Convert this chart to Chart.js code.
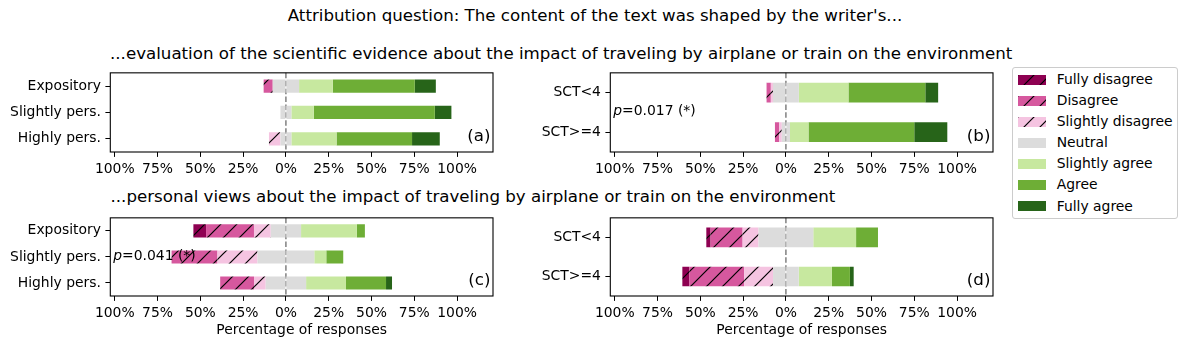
<!DOCTYPE html>
<html><head><meta charset="utf-8">
<script src="https://cdn.jsdelivr.net/npm/chart.js@4.4.1/dist/chart.umd.min.js"></script>
<style>
body{margin:0;width:1190px;height:348px;background:#fff;position:relative;overflow:hidden;font-family:'DejaVu Sans',sans-serif;color:#000}
.t{position:absolute;white-space:nowrap;font-size:16.67px;line-height:1}
canvas.c{position:absolute}
#legend{position:absolute;left:1012px;top:67px;width:164px;height:150px;border:1px solid #ccc;border-radius:3px;background:#fff}
.li{position:absolute;white-space:nowrap;font-size:13.9px;line-height:1}
canvas.sw{position:absolute}
</style></head>
<body>
<div class="t" id="title" style="left:0;width:1190px;text-align:center;top:7.6px">Attribution question: The content of the text was shaped by the writer's...</div>
<div class="t" style="left:110px;top:45.9px">...evaluation of the scientific evidence about the impact of traveling by airplane or train on the environment</div>
<div class="t" style="left:110.5px;top:189.2px">...personal views about the impact of traveling by airplane or train on the environment</div>
<div id="legend"></div>
<script>
// ---- data (percentage of responses) ----
const levels = ['Fully disagree','Disagree','Slightly disagree','Neutral','Slightly agree','Agree','Fully agree'];
const levelColors = ['#8e0152','#d6589e','#f5c4e1','#dcdcdc','#c7e89f','#6eae36','#276419'];
const levelHatched = [true,true,true,false,false,false,false];
const xTickValues = [-100,-75,-50,-25,0,25,50,75,100];
const textGroups = ['Expository','Slightly pers.','Highly pers.'];
const sctGroups = ['SCT<4','SCT>=4'];
// (a) evaluation of the scientific evidence, by text type
const evidenceExpository = [0, 5.3, 0, 15.4, 19.7, 47.9, 12.3];
const evidenceSlightlyPers = [0, 0, 0, 6.4, 13.1, 70.7, 9.7];
const evidenceHighlyPers = [0, 0, 6.7, 6.4, 26.4, 44.1, 16.2];
// (b) evaluation of the scientific evidence, by SCT
const evidenceSctLow = [0, 2.5, 1.25, 15.1, 29.0, 44.9, 7.5];
const evidenceSctHigh = [0, 2.5, 1.5, 4.8, 10.8, 61.8, 19.3];
// (c) personal views, by text type
const viewsExpository = [7.4, 28.0, 9.8, 17.7, 32.6, 4.7, 0];
const viewsSlightlyPers = [0, 26.8, 23.4, 33.2, 7.0, 9.9, 0];
const viewsHighlyPers = [0, 19.8, 6.8, 23.6, 23.3, 23.4, 3.5];
// (d) personal views, by SCT
const viewsSctLow = [2.5, 18.7, 9.3, 32.0, 25.0, 12.8, 0];
const viewsSctHigh = [4.0, 32.1, 16.9, 15.0, 19.4, 10.5, 2.2];
const xMin = -102.6, xMax = 121;

Chart.defaults.font.family = "'DejaVu Sans', sans-serif";
Chart.defaults.font.size = 13.9;
Chart.defaults.color = '#000';

function hatch(color){
  const S = 16;
  const c = document.createElement('canvas'); c.width = S; c.height = S;
  const x = c.getContext('2d');
  x.fillStyle = color; x.fillRect(0,0,S,S);
  x.strokeStyle = '#000'; x.lineWidth = 1.2;
  x.beginPath();
  x.moveTo(-2,S+2); x.lineTo(S+2,-2);
  x.moveTo(-2,2); x.lineTo(2,-2);
  x.moveTo(S-2,S+2); x.lineTo(S+2,S-2);
  x.stroke();
  return x.createPattern(c,'repeat');
}
const fills = levelColors.map((c,i)=> levelHatched[i] ? hatch(c) : c);

function buildDatasets(rows){
  const col = k => rows.map(r => r[k]);
  const ds = [];
  ds.push({label:'Neutral', data: col(3).map(v => -v/2), backgroundColor: fills[3]});
  for (const k of [2,1,0]) ds.push({label: levels[k], data: col(k).map(v => -v), backgroundColor: fills[k]});
  ds.push({label:'Neutral', data: col(3).map(v => v/2), backgroundColor: fills[3]});
  for (const k of [4,5,6]) ds.push({label: levels[k], data: col(k), backgroundColor: fills[k]});
  return ds.map(d => Object.assign(d, {stack:'s', barPercentage:0.5, categoryPercentage:1, borderWidth:0}));
}

const deco = {
  id:'deco',
  beforeDatasetsDraw(chart){
    const {ctx, chartArea:a} = chart;
    const x0 = chart.scales.x.getPixelForValue(0);
    ctx.save();
    ctx.strokeStyle = '#808080'; ctx.lineWidth = 1.5; ctx.setLineDash([5.5,2.4]);
    ctx.beginPath(); ctx.moveTo(x0, a.top); ctx.lineTo(x0, a.bottom); ctx.stroke();
    ctx.restore();
  },
  afterDatasetsDraw(chart, args, opts){
    const {ctx, chartArea:a} = chart;
    ctx.save();
    ctx.strokeStyle = '#000'; ctx.lineWidth = 1.1;
    ctx.strokeRect(a.left, a.top, a.right - a.left, a.bottom - a.top);
    ctx.fillStyle = '#000';
    if (opts.tag){
      ctx.font = "16.67px 'DejaVu Sans'"; ctx.textAlign = 'right'; ctx.textBaseline = 'alphabetic';
      ctx.fillText(opts.tag, a.right - 2.6, a.bottom - 11.2);
    }
    if (opts.p){
      const y = (a.top + a.bottom)/2 - 1;
      ctx.textBaseline = 'middle'; ctx.textAlign = 'left';
      ctx.font = "italic 13.9px 'DejaVu Sans'";
      let x = a.left + 3;
      ctx.fillText('p', x, y);
      x += ctx.measureText('p').width;
      ctx.font = "13.9px 'DejaVu Sans'";
      ctx.fillText('=' + opts.p + ' (*)', x, y);
    }
    ctx.restore();
  }
};

function panel(p){
  const cv = document.createElement('canvas');
  cv.className = 'c'; cv.width = p.w; cv.height = p.h;
  cv.style.left = p.left + 'px'; cv.style.top = p.top + 'px';
  document.body.appendChild(cv);
  new Chart(cv, {
    type:'bar',
    data:{labels: p.labels, datasets: buildDatasets(p.rows)},
    plugins:[deco],
    options:{
      indexAxis:'y', responsive:false, animation:false, devicePixelRatio:1,
      layout:{padding:{top:7.5, right:p.w - 493, left:0, bottom:0}},
      plugins:{legend:{display:false}, tooltip:{enabled:false}, deco:{tag:p.tag, p:p.pval}},
      scales:{
        x:{type:'linear', stacked:true, min:xMin, max:xMax,
           afterBuildTicks: s => { s.ticks = xTickValues.map(v => ({value:v})); },
           afterFit: s => { s.height = p.xh; },
           ticks:{callback: v => Math.abs(v) + '%', padding:4, maxRotation:0, autoSkip:false, color:'#000'},
           grid:{display:true, drawOnChartArea:false, drawTicks:true, tickLength:4.9, color:'#000', lineWidth:1},
           border:{display:false},
           title:{display:!!p.xtitle, text:p.xtitle || '', color:'#000', font:{size:13.9}, padding:{top:0, bottom:2}}
        },
        y:{stacked:true,
           afterFit: s => { s.width = 110.3; },
           ticks:{padding:4.5, color:'#000'},
           grid:{display:true, drawOnChartArea:false, drawTicks:true, tickLength:4.9, color:'#000', lineWidth:1, offset:false},
           border:{display:false}
        }
      }
    }
  });
}

panel({left:0, top:60, w:500, h:122, xh:30, labels:textGroups, rows:[evidenceExpository, evidenceSlightlyPers, evidenceHighlyPers], tag:'(a)'});
panel({left:500, top:60, w:500, h:122, xh:30, labels:sctGroups, rows:[evidenceSctLow, evidenceSctHigh], tag:'(b)', pval:'0.017'});
panel({left:0, top:205, w:500, h:136, xh:45, labels:textGroups, rows:[viewsExpository, viewsSlightlyPers, viewsHighlyPers], tag:'(c)', pval:'0.041', xtitle:'Percentage of responses'});
panel({left:500, top:205, w:500, h:136, xh:45, labels:sctGroups, rows:[viewsSctLow, viewsSctHigh], tag:'(d)', xtitle:'Percentage of responses'});

// legend
levels.forEach((lab, i) => {
  const sw = document.createElement('canvas');
  sw.className = 'sw'; sw.width = 28; sw.height = 10;
  sw.style.left = '1017.7px'; sw.style.top = (75 + 21.05*i) + 'px';
  document.body.appendChild(sw);
  const g = sw.getContext('2d'); g.fillStyle = fills[i]; g.fillRect(0,0,28,10);
  const d = document.createElement('div');
  d.className = 'li'; d.textContent = lab;
  d.style.left = '1056.7px'; d.style.top = (73.2 + 21.05*i) + 'px';
  document.body.appendChild(d);
});
</script>
</body></html>
